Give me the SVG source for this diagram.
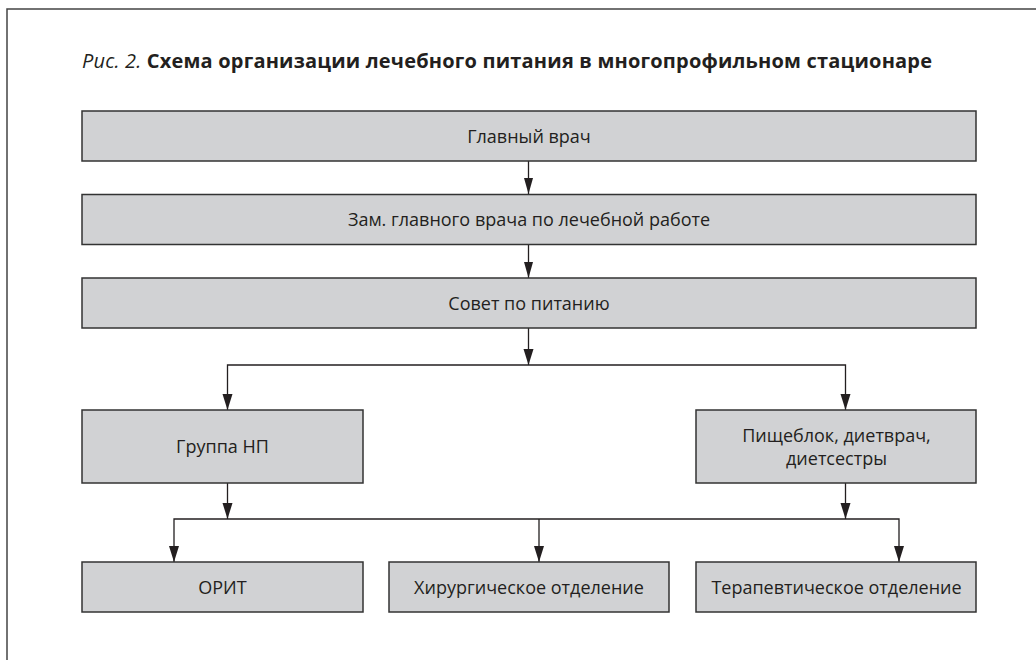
<svg xmlns="http://www.w3.org/2000/svg" width="1036" height="660" viewBox="0 0 1036 660">
<defs>
<style>
.box{fill:#d1d2d4;stroke:#333;stroke-width:1.5}
.t{font-family:"Open Sans","Noto Sans","Liberation Sans",sans-serif;font-size:18px;fill:#231f20;text-anchor:middle}
.c{fill:none;stroke:#231f20;stroke-width:1.3}
.ah{fill:#231f20}
.title{font-family:"Open Sans","Noto Sans","Liberation Sans",sans-serif;font-size:20px;fill:#231f20}
</style>
<marker id="arr" markerWidth="16" markerHeight="9" refX="16" refY="4.5" orient="auto" markerUnits="userSpaceOnUse" viewBox="0 0 16 9">
<path d="M0,0 L16,4.5 L0,9 Z" fill="#231f20"/>
</marker>
</defs>
<rect width="1036" height="660" fill="#fff"/>
<path d="M7,660 V9 H1036" fill="none" stroke="#444" stroke-width="1.5"/>
<text class="title" x="82" y="68" textLength="850" lengthAdjust="spacing"><tspan font-style="italic">Рис. 2.</tspan><tspan font-weight="bold"> Схема организации лечебного питания в многопрофильном стационаре</tspan></text>
<g id="connectors">
<path class="c" d="M528.5,161 V194" marker-end="url(#arr)"/>
<path class="c" d="M528.5,244 V278" marker-end="url(#arr)"/>
<path class="c" d="M528.5,328 V365"/>
<path class="ah" d="M523.5,349 L528.5,365 L533.5,349 Z"/>
<path class="c" d="M227.5,410 V365 H845.5 V410"/>
<path class="ah" d="M222.5,394 L227.5,410 L232.5,394 Z"/>
<path class="ah" d="M840.5,394 L845.5,410 L850.5,394 Z"/>
<path class="c" d="M227.5,483 V519"/>
<path class="ah" d="M222.5,503 L227.5,519 L232.5,503 Z"/>
<path class="c" d="M845.5,483 V519"/>
<path class="ah" d="M840.5,503 L845.5,519 L850.5,503 Z"/>
<path class="c" d="M174,562 V519 H899 V562"/>
<path class="c" d="M539,519 V562"/>
<path class="ah" d="M169,546 L174,562 L179,546 Z"/>
<path class="ah" d="M534,546 L539,562 L544,546 Z"/>
<path class="ah" d="M894,546 L899,562 L904,546 Z"/>
</g>
<g id="n1"><rect class="box" x="82" y="111" width="894" height="50"/><text class="t" x="529" y="142.5">Главный врач</text></g>
<g id="n2"><rect class="box" x="82" y="194.5" width="894" height="50"/><text class="t" x="529" y="226">Зам. главного врача по лечебной работе</text></g>
<g id="n3"><rect class="box" x="82" y="278" width="894" height="50"/><text class="t" x="529" y="309.5">Совет по питанию</text></g>
<g id="n4"><rect class="box" x="82" y="410" width="281" height="73"/><text class="t" x="222.5" y="452.5">Группа НП</text></g>
<g id="n5"><rect class="box" x="696" y="410" width="280" height="73"/><text class="t" x="836.5" y="441.5">Пищеблок, диетврач,</text><text class="t" x="836.5" y="465">диетсестры</text></g>
<g id="n6"><rect class="box" x="82" y="562" width="281" height="50"/><text class="t" x="222.5" y="593.5">ОРИТ</text></g>
<g id="n7"><rect class="box" x="389" y="562" width="280" height="50"/><text class="t" x="529" y="593.5">Хирургическое отделение</text></g>
<g id="n8"><rect class="box" x="696" y="562" width="280" height="50"/><text class="t" x="836.5" y="593.5">Терапевтическое отделение</text></g>
</svg>
